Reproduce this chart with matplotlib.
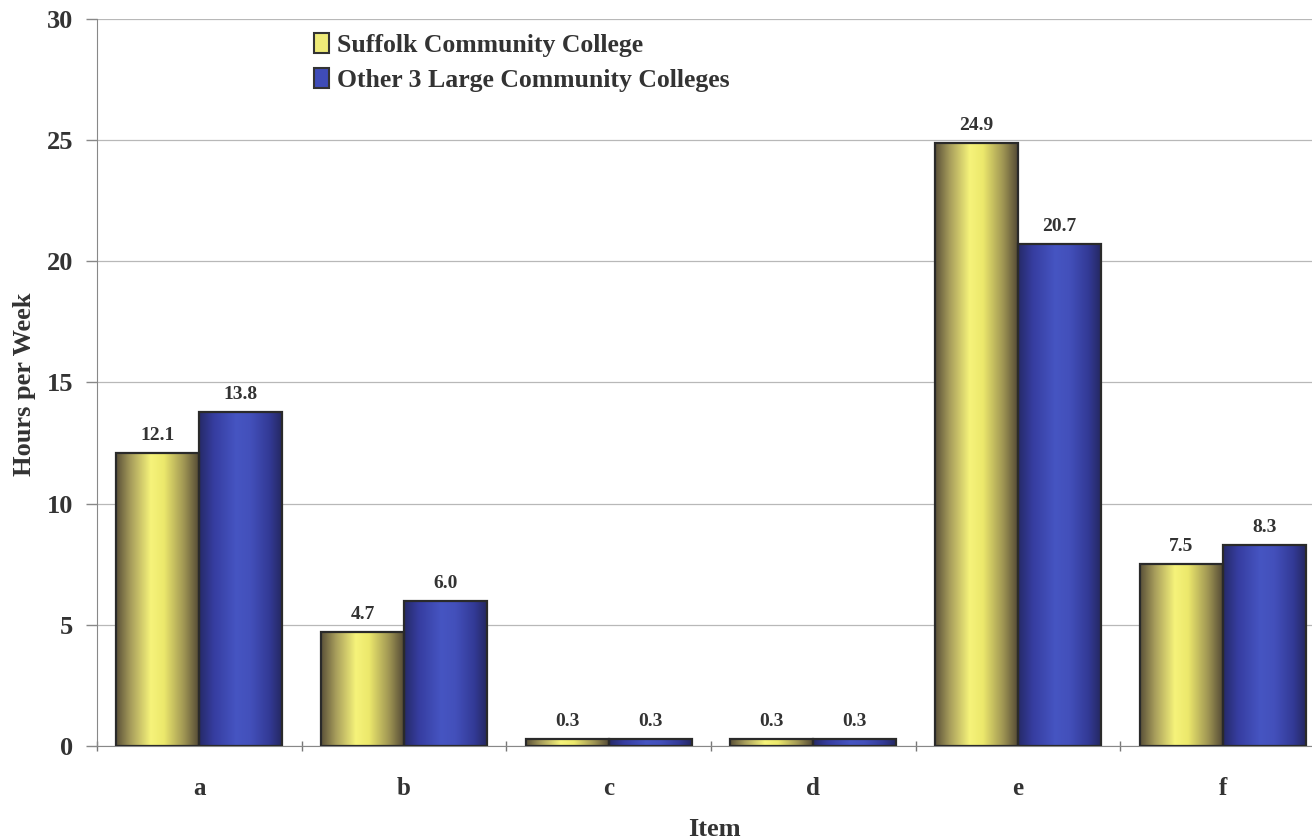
import numpy as np
import matplotlib
matplotlib.use("Agg")
import matplotlib.pyplot as plt
from matplotlib.colors import LinearSegmentedColormap
from matplotlib.patches import Patch

categories = ["a", "b", "c", "d", "e", "f"]
suffolk = [12.1, 4.7, 0.3, 0.3, 24.9, 7.5]
others = [13.8, 6.0, 0.3, 0.3, 20.7, 8.3]
series_names = ["Suffolk Community College", "Other 3 Large Community Colleges"]
yticks = [0, 5, 10, 15, 20, 25, 30]

plt.rcParams['font.family'] = ['Liberation Serif', 'DejaVu Serif']
plt.rcParams['font.weight'] = 'bold'

W, H = 1312, 840
fig = plt.figure(figsize=(W / 100, H / 100), dpi=100)
ax = fig.add_axes([97 / W, 1 - 746 / H, 1228 / W, (746 - 19) / H])

yellow_cmap = LinearSegmentedColormap.from_list(
    "yel", [(0.0, "#5a5038"), (0.18, "#a89e5c"), (0.42, "#f6f37a"), (0.58, "#ece86c"),
            (0.82, "#a09654"), (1.0, "#554b36")])
blue_cmap = LinearSegmentedColormap.from_list(
    "blu", [(0.0, "#262a68"), (0.18, "#363da0"), (0.45, "#4655c2"), (0.62, "#4350bb"),
            (0.85, "#333a96"), (1.0, "#252862")])

x = np.arange(len(categories))
bw = 0.405
grad = np.linspace(0, 1, 256).reshape(1, -1)

def draw(vals, offset, cmap):
    bars = ax.bar(x + offset, vals, width=bw, color="none", edgecolor="#2a2a2a",
                  linewidth=1.6, zorder=3)
    for b, v in zip(bars, vals):
        x0, y0 = b.get_x(), b.get_y()
        im = ax.imshow(grad, cmap=cmap, aspect="auto",
                       extent=[x0, x0 + b.get_width(), y0, y0 + b.get_height()],
                       zorder=2, interpolation="bilinear")
        im.set_clip_path(b)
        ax.annotate(f"{v:.1f}", (x0 + b.get_width() / 2, v), xytext=(0, 9),
                    textcoords="offset pixels", ha="center", va="bottom",
                    fontsize=14, fontweight="bold", color="#333333", zorder=4)
    return bars

draw(suffolk, -bw / 2, yellow_cmap)
draw(others, bw / 2, blue_cmap)

ax.set_xlim(-0.5, len(categories) - 0.5)
ax.set_ylim(0, 30)
ax.set_yticks(yticks)
ax.set_yticklabels([str(t) for t in yticks], fontsize=19, fontweight="bold", color="#333333")
ax.yaxis.grid(True, color="#b8b8b8", linewidth=0.9, zorder=0)
ax.set_axisbelow(True)
ax.tick_params(axis="y", length=8, width=1, color="#888888", pad=9)

ax.set_xticks(x)
ax.set_xticklabels(categories, fontsize=18, fontweight="bold", color="#333333")
ax.tick_params(axis="x", length=0, pad=22)
ax.set_xticks(np.arange(len(categories) + 1) - 0.5, minor=True)
ax.tick_params(axis="x", which="minor", length=7, direction="inout", color="#777777", width=1)

for s in ["top", "right"]:
    ax.spines[s].set_visible(False)
ax.spines["left"].set_color("#888888")
ax.spines["bottom"].set_color("#888888")

fig.text(25 / W, 1 - 384 / H, "Hours per Week", rotation=90, ha="center", va="center",
         fontsize=19, fontweight="bold", color="#333333")
fig.text(714 / W, 1 - 830 / H, "Item", ha="center", va="center",
         fontsize=19, fontweight="bold", color="#333333")

handles = [Patch(facecolor="#eeea78", edgecolor="#333333", linewidth=1.5),
           Patch(facecolor="#3f4cb8", edgecolor="#333333", linewidth=1.5)]
leg = ax.legend(handles, series_names, loc="upper left", bbox_to_anchor=(0.168, 0.995),
                frameon=False, fontsize=18.5, handlelength=0.6, handleheight=0.8,
                handletextpad=0.3, labelspacing=0.45, borderaxespad=0)
for t in leg.get_texts():
    t.set_fontweight("bold")
    t.set_color("#333333")

fig.savefig("out.png", dpi=100)
